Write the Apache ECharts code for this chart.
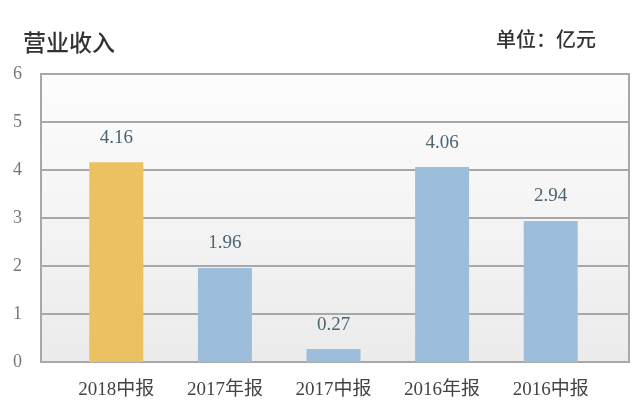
<!DOCTYPE html>
<html><head><meta charset="utf-8">
<script src="https://cdn.jsdelivr.net/npm/echarts@6/dist/echarts.min.js"></script>
<style>html,body{margin:0;padding:0;background:#fff}#c{width:640px;height:419px}</style>
</head><body><div id="c"></div>
<script>
const categories = ['2018中报', '2017年报', '2017中报', '2016年报', '2016中报'];
const revenue = [4.16, 1.96, 0.27, 4.06, 2.94];
const barColors = ['#EBC162', '#9CBEDB', '#9CBEDB', '#9CBEDB', '#9CBEDB'];
const yTicks = [0, 1, 2, 3, 4, 5, 6];

const serif = '"Liberation Serif","DejaVu Serif","Noto Sans CJK SC",serif';
const chart = echarts.init(document.getElementById('c'), null, {renderer: 'canvas'});
chart.setOption({
  backgroundColor: '#fff',
  animation: false,
  title: [
    {text: '营业收入', left: 18, top: 26, textStyle: {fontFamily: '"Noto Sans CJK SC"', fontSize: 23, fontWeight: 500, color: '#333'}},
    {text: '单位：亿元', left: 491, top: 24, textStyle: {fontFamily: '"Noto Sans CJK SC"', fontSize: 20, fontWeight: 500, color: '#333'}}
  ],
  grid: [
    {left: 41, right: 11, top: 74, bottom: 57, show: true, borderColor: '#a8a8a8', borderWidth: 2,
     backgroundColor: new echarts.graphic.LinearGradient(0, 0, 0, 1, [{offset: 0, color: '#fdfdfd'}, {offset: 1, color: '#ebebeb'}])},
    {left: 62, right: 35, top: 74, bottom: 57}
  ],
  xAxis: [
    {gridIndex: 0, type: 'category', data: categories, show: false},
    {gridIndex: 1, type: 'category', data: categories,
     axisLine: {show: false}, axisTick: {show: false},
     axisLabel: {margin: 19, fontFamily: serif, fontSize: 19, color: '#444'}}
  ],
  yAxis: [
    {gridIndex: 0, type: 'value', min: yTicks[0], max: yTicks[yTicks.length - 1], interval: 1,
     axisLine: {show: false}, axisTick: {show: false},
     axisLabel: {margin: 19, fontFamily: serif, fontSize: 18, color: '#777'},
     splitLine: {show: true, lineStyle: {color: '#a8a8a8', width: 2}}},
    {gridIndex: 1, type: 'value', min: 0, max: 6, interval: 1, show: false, splitLine: {show: false}}
  ],
  series: [{
    type: 'bar', xAxisIndex: 1, yAxisIndex: 1, barWidth: 54,
    data: revenue.map((v, i) => ({value: v, itemStyle: {color: barColors[i]}})),
    label: {show: true, position: 'top', distance: 15, fontFamily: serif, fontSize: 19, color: '#4d6472',
            formatter: p => p.value.toFixed(2)}
  }]
});
</script></body></html>
